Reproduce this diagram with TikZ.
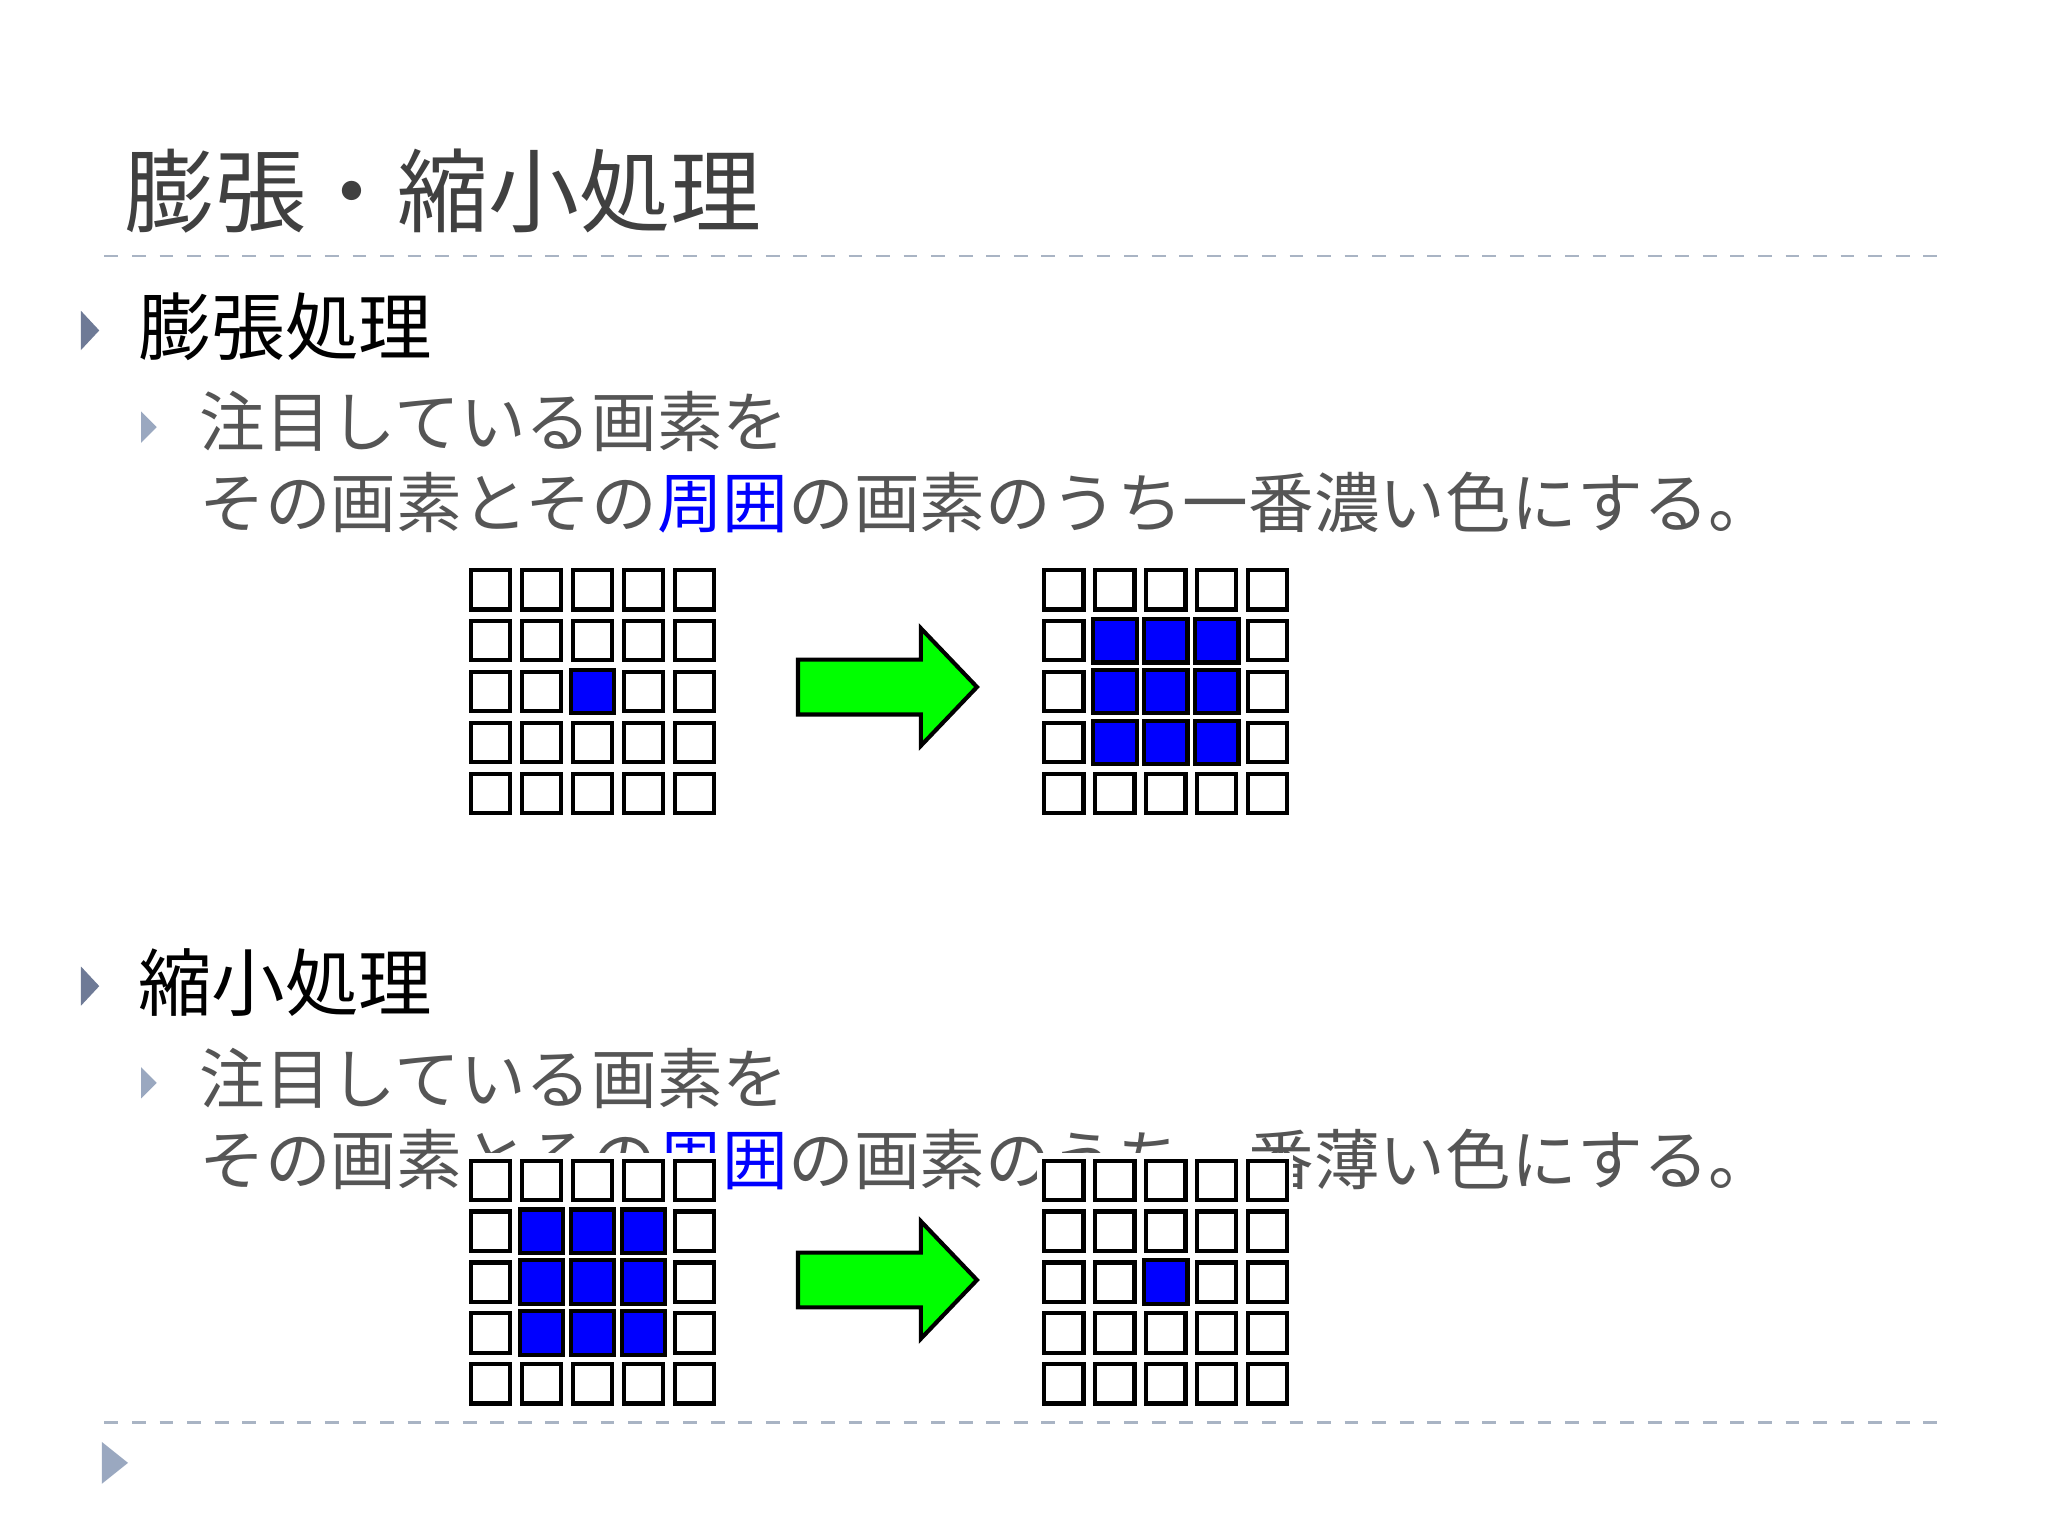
\documentclass[tikz,border=0pt]{standalone}
\usepackage{fontspec}
\newfontfamily\jp{Noto Sans CJK JP}
\definecolor{dashcol}{HTML}{A9B4C4}
\definecolor{bul}{HTML}{6E7A96}
\definecolor{bul2}{HTML}{9AA8C0}
\definecolor{txt}{HTML}{555555}
\definecolor{pix}{HTML}{0000FF}
\definecolor{grn}{HTML}{00FF00}
\begin{document}
\begin{tikzpicture}[x=0.01cm,y=-0.01cm,
  cell/.style={draw=black,line width=0.9pt,fill=white},
  title/.style={anchor=west,inner sep=0,font=\jp\fontsize{19.8}{22}\selectfont,text=black!75},
  head/.style={anchor=west,inner sep=0,font=\jp\fontsize{16}{19}\selectfont,text=black},
  body/.style={anchor=west,inner sep=0,font=\jp\fontsize{14.3}{16}\selectfont,text=txt}]
\fill[white] (0,0) rectangle (1568,1176);
\useasboundingbox (0,0) rectangle (1568,1176);
\node[title] (t) at (95,146) {膨張・縮小処理};
\draw[dashcol,dashed,line width=0.6pt] (80,196) -- (1490,196);
\draw[dashcol,dashed,line width=0.6pt] (80,1089) -- (1490,1089);
\foreach \y in {253,755}{\fill[bul] (62,\y-15) -- (76,\y) -- (62,\y+15) -- cycle;}
\foreach \y in {327,829}{\fill[bul2] (108,\y-12) -- (120,\y) -- (108,\y+12) -- cycle;}
\fill[bul2] (78,1104) -- (98,1120) -- (78,1136) -- cycle;
\node[head] (h1) at (105,250) {膨張処理};
\node[body] (b1) at (152,323) {注目している画素を};
\node[body] (b2) at (152,385) {その画素とその\textcolor{pix}{周囲}の画素のうち一番濃い色にする。};
\node[head] (h2) at (105,752) {縮小処理};
\node[body] (b3) at (152,826) {注目している画素を};
\node[body] (b4) at (152,888) {その画素とその\textcolor{pix}{周囲}の画素のうち一番薄い色にする。};
\newcommand{\pixgrid}[4]{%
  \fill[white] (#1-4,#2-4) rectangle (#1+192,#2+192);
  \foreach \r in {0,...,4}{\foreach \c in {0,...,4}{
    \node[cell,minimum size=0.3cm,inner sep=0,anchor=north west] (#3-\r-\c) at (#1+\c*39,#2+\r*39) {};}}
  \foreach \r/\c in {#4}{\fill[pix] (#3-\r-\c.north west) rectangle (#3-\r-\c.south east);
    \draw[line width=0.9pt] (#3-\r-\c.north west) rectangle (#3-\r-\c.south east);}
}
\pixgrid{359}{435}{ga}{2/2}
\pixgrid{798}{435}{gb}{1/1,1/2,1/3,2/1,2/2,2/3,3/1,3/2,3/3}
\pixgrid{359}{887}{gc}{1/1,1/2,1/3,2/1,2/2,2/3,3/1,3/2,3/3}
\pixgrid{798}{887}{gd}{2/2}
\foreach \y in {526,980}{
 \draw[black,line width=0.9pt,fill=grn] (611,\y-21) -- (705,\y-21) -- (705,\y-45) -- (748,\y) -- (705,\y+45) -- (705,\y+21) -- (611,\y+21) -- cycle;}
\end{tikzpicture}
\end{document}
